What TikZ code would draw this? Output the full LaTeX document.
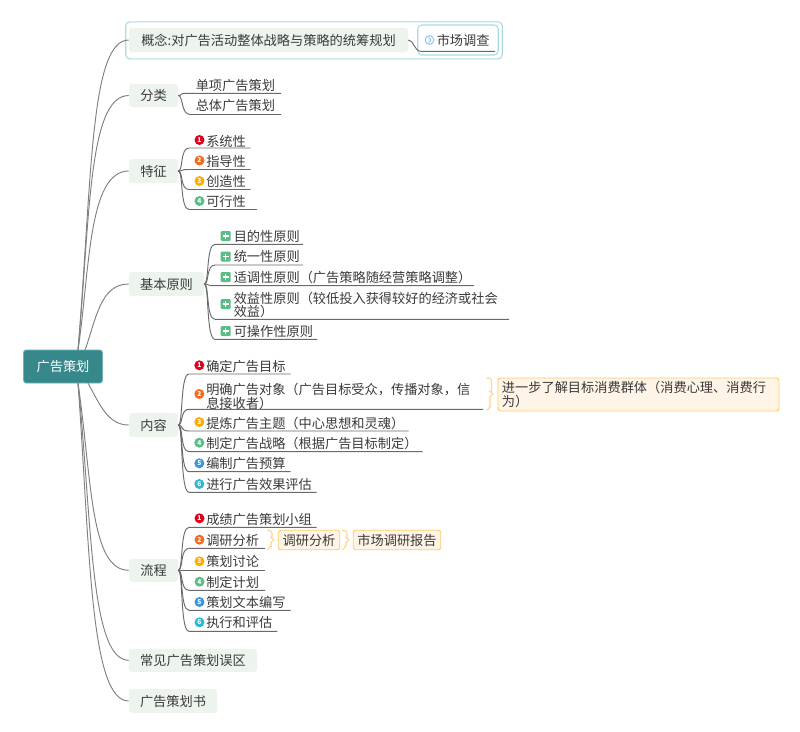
\documentclass[tikz,border=0pt]{standalone}
\usepackage{fontspec}
\setmainfont{Noto Sans CJK SC}
\definecolor{rootfill}{HTML}{36888B}
\definecolor{rootline}{HTML}{6FB5B7}
\definecolor{branchfill}{HTML}{EDF4EE}
\definecolor{txt}{HTML}{3A3A3A}
\definecolor{linec}{HTML}{6A6A6A}
\definecolor{rootconn}{HTML}{808080}
\definecolor{cyanb}{HTML}{A8DCDD}
\definecolor{notefill}{HTML}{FEF4E8}
\definecolor{noteline}{HTML}{FFCC66}
\definecolor{bracec}{HTML}{FFD68A}
\definecolor{ired}{HTML}{E0001B}
\definecolor{iorange}{HTML}{F26C21}
\definecolor{iyellow}{HTML}{FFAB00}
\definecolor{igreen}{HTML}{5BBD85}
\definecolor{iblue}{HTML}{3A97DE}
\definecolor{iteal}{HTML}{2FB8CF}
\definecolor{ilink}{HTML}{85C4F0}
\tikzset{
  basefont/.style={font=\fontsize{9.9}{10.2}\selectfont, text=txt},
  branchbox/.style={basefont, fill=branchfill, rounded corners=2.2pt, inner sep=0pt, text height=8.6pt, text depth=0.9pt},
  rootbox/.style={font=\fontsize{9.9}{10.2}\selectfont, text=white, fill=rootfill, draw=rootline, line width=.6pt, rounded corners=2pt, inner sep=0pt, text height=8.6pt, text depth=0.9pt},
  leaftext/.style={basefont, anchor=west, inner sep=0pt, text height=8.6pt, text depth=0.9pt},
  leaftwo/.style={basefont, anchor=west, inner sep=0pt, align=left},
  rootlink/.style={draw=rootconn, line width=.7pt},
  leaflink/.style={draw=linec, line width=.7pt},
  notebox/.style={basefont, fill=notefill, draw=noteline, line width=.7pt, rounded corners=2pt, inner sep=0pt},
  bracelink/.style={draw=bracec, line width=.8pt},
  framebox/.style={draw=cyanb, line width=.8pt, rounded corners=3pt},
  numicon/.style={circle, inner sep=0pt, minimum size=7.5pt, text=white, font=\fontsize{5}{5}\selectfont\bfseries},
  plusicon/.style={fill=igreen, rounded corners=.8pt, inner sep=0pt, minimum size=7.5pt, text=white},
}
% name, line start x, line end x, line y, text x, text y, text
\newcommand{\lf}[7]{%
  \coordinate (#1-a) at (#2,#4);
  \coordinate (#1-b) at (#3,#4);
  \node[leaftext] (#1) at (#5,#6) {#7};}
\newcommand{\lftwo}[7]{%
  \coordinate (#1-a) at (#2,#4);
  \coordinate (#1-b) at (#3,#4);
  \node[leaftwo] (#1) at (#5,#6) {#7};}
\newcommand{\lk}[2]{\draw[leaflink] (#1.east) .. controls +(5,0) and +(-9,0) .. (#2-a) -- (#2-b);}
\newcommand{\ic}[5]{\node[numicon, fill=#4] (#1-i) at (#2,#3) {#5};}
\newcommand{\pl}[3]{%
  \node[plusicon] (#1-i) at (#2,#3) {};
  \draw[white, line width=1pt] ($(#1-i.center)+(-3,0)$) -- ($(#1-i.center)+(3,0)$);
  \draw[white, line width=1pt] ($(#1-i.center)+(0,-3)$) -- ($(#1-i.center)+(0,3)$);}
% brace from named coordinates: name top, name bottom, name tip
\newcommand{\brc}[3]{\draw[bracelink] (#1) -- ++(2,0) .. controls +(2,0) and +(0,-2) .. ++(3,3) |- ($(#3)+(-3,-2.5)$) -- (#3) -- ($(#3)+(-3,2.5)$) -- ++(0,0) |- ($(#2)+(3,-3)$) .. controls +(0,2) and +(1,0) .. (#2);}
\usetikzlibrary{calc}
\begin{document}
\begin{tikzpicture}[x=0.75pt,y=-0.75pt]
\useasboundingbox (0,0) rectangle (800,732);
\fill[white] (0,0) rectangle (800,732);

% anchors on the root
\coordinate (rtA) at (78,350);
\coordinate (rtB) at (85,350);
\coordinate (rtC) at (78,383);
\coordinate (rtD) at (88,383);

% frames
\node[framebox, fill=white, minimum width=376.5*.75pt, minimum height=37*.75pt, inner sep=0pt] (outerframe) at (314,40.3) {};
\node[framebox, fill=white, minimum width=80.5*.75pt, minimum height=30*.75pt, inner sep=0pt] (innerframe) at (458,40) {};

% branches
\node[branchbox, minimum width=279*.75pt, minimum height=24*.75pt] (gn) at (268.5,40) {概念:对广告活动整体战略与策略的统筹规划};
\node[branchbox, minimum width=49*.75pt, minimum height=23*.75pt] (fl) at (153.5,95.5) {分类};
\node[branchbox, minimum width=49*.75pt, minimum height=24*.75pt] (tz) at (153.5,171) {特征};
\node[branchbox, minimum width=75*.75pt, minimum height=24*.75pt] (jb) at (166.5,284) {基本原则};
\node[branchbox, minimum width=49*.75pt, minimum height=24*.75pt] (nr) at (153.5,425) {内容};
\node[branchbox, minimum width=49*.75pt, minimum height=23*.75pt] (lc) at (153.5,570.3) {流程};
\node[branchbox, minimum width=128*.75pt, minimum height=23*.75pt] (cj) at (193,660.3) {常见广告策划误区};
\node[branchbox, minimum width=88*.75pt, minimum height=24*.75pt] (sh) at (173,701) {广告策划书};

% root connectors
\draw[rootlink] (rtA) .. controls (92,180) and (90,40) .. (gn.west);
\draw[rootlink] (rtA) .. controls (90,220) and (88,95.5) .. (fl.west);
\draw[rootlink] (rtA) .. controls (90,270) and (88,171) .. (tz.west);
\draw[rootlink] (rtB) .. controls (96,320) and (100,284) .. (jb.west);
\draw[rootlink] (rtD) .. controls (100,405) and (108,425) .. (nr.west);
\draw[rootlink] (rtC) .. controls (92,480) and (90,570.3) .. (lc.west);
\draw[rootlink] (rtC) .. controls (92,520) and (90,660.3) .. (cj.west);
\draw[rootlink] (rtC) .. controls (90,550) and (90,701) .. (sh.west);

% root
\node[rootbox, minimum width=79*.75pt, minimum height=33*.75pt] (root) at (63,366.5) {广告策划};

% concept attachment
\coordinate (sc-a) at (421,51.3);
\coordinate (sc-b) at (495,51.3);
\draw[leaflink] (gn.east) .. controls (414,40) and (414,51.3) .. (sc-a) -- (sc-b);
\node[leaftext] (sc) at (436.5,40) {市场调查};
\node[circle, draw=ilink, line width=.7pt, minimum size=6.5pt, inner sep=0pt] (sc-i) at (429.5,40) {};
\draw[ilink, line width=.7pt] ($(sc-i.center)+(-1,-2.5)$) -- ($(sc-i.center)+(1.5,0)$) -- ($(sc-i.center)+(-1,2.5)$);

% classification
\lf{fa}{187}{281}{93.3}{195.5}{85}{单项广告策划}
\lf{fb}{190}{281}{114.5}{195.5}{105}{总体广告策划}
\lk{fl}{fa}\lk{fl}{fb}

% features
\lf{ta}{189}{250.7}{148}{206}{141}{系统性}
\lf{tb}{189}{250.7}{169.5}{206}{161}{指导性}
\lf{tc}{189}{250.7}{189.5}{206}{181}{创造性}
\lf{td}{189}{257}{209.5}{206}{201}{可行性}
\lk{tz}{ta}\lk{tz}{tb}\lk{tz}{tc}\lk{tz}{td}
\ic{ta}{199.5}{140}{ired}{1}
\ic{tb}{199.5}{160.5}{iorange}{2}
\ic{tc}{199.5}{181}{iyellow}{3}
\ic{td}{199.5}{201}{igreen}{4}

% principles
\lf{ja}{215}{303}{244.3}{233.5}{236}{目的性原则}
\lf{jb1}{215}{303}{265}{233.5}{256}{统一性原则}
\lf{jc}{215}{474}{285.7}{233.5}{277}{适调性原则（广告策略随经营策略调整）}
\lftwo{jd}{215}{509}{319.3}{233.5}{305}{效益性原则（较低投入获得较好的经济或社会\\效益）}
\lf{je}{215}{317}{339.3}{233.5}{331}{可操作性原则}
\lk{jb}{ja}\lk{jb}{jb1}\lk{jb}{jc}\lk{jb}{jd}\lk{jb}{je}
\pl{ja}{225.7}{236}
\pl{jb1}{225.7}{256.5}
\pl{jc}{225.7}{277}
\pl{jd}{225.7}{304}
\pl{je}{225.7}{331}

% content
\lf{na}{189}{290.7}{374}{206}{366}{确定广告目标}
\lftwo{nb}{189}{483}{409.3}{206}{396.5}{明确广告对象（广告目标受众，传播对象，信\\息接收者）}
\lf{nc}{189}{408.7}{431}{206}{423}{提炼广告主题（中心思想和灵魂）}
\lf{nd}{189}{422.7}{451.7}{206}{443}{制定广告战略（根据广告目标制定）}
\lf{ne}{189}{290.7}{471.7}{206}{463}{编制广告预算}
\lf{nf}{189}{316.7}{492.3}{206}{484}{进行广告效果评估}
\lk{nr}{na}\lk{nr}{nb}\lk{nr}{nc}\lk{nr}{nd}\lk{nr}{ne}\lk{nr}{nf}
\ic{na}{199.3}{365.3}{ired}{1}
\ic{nb}{199.3}{394}{iorange}{2}
\ic{nc}{199.3}{422}{iyellow}{3}
\ic{nd}{199.3}{442.7}{igreen}{4}
\ic{ne}{199.3}{463.3}{iblue}{5}
\ic{nf}{199.3}{484}{iteal}{6}

% note on content item 2
\node[notebox, text width=273*.75pt, minimum height=33*.75pt, align=left, anchor=west, inner xsep=3pt] (note) at (497.5,394.5) {进一步了解目标消费群体（消费心理、消费行\\为）};
\coordinate (nbt) at (486.5,378);
\coordinate (nbb) at (486.5,410);
\coordinate (nbm) at (493,394);
\brc{nbt}{nbb}{nbm}

% process
\lf{la}{189}{316.7}{527.3}{206}{519}{成绩广告策划小组}
\lf{lb}{189}{265}{548.3}{206}{540}{调研分析}
\lf{lc1}{189}{265}{570.3}{206}{561.5}{策划讨论}
\lf{ld}{189}{265}{590.3}{206}{582}{制定计划}
\lf{le}{189}{290.7}{610.3}{206}{602}{策划文本编写}
\lf{lf1}{189}{277.3}{631.3}{206}{622.5}{执行和评估}
\lk{lc}{la}\lk{lc}{lb}\lk{lc}{lc1}\lk{lc}{ld}\lk{lc}{le}\lk{lc}{lf1}
\ic{la}{199.5}{518.3}{ired}{1}
\ic{lb}{199.5}{539.7}{iorange}{2}
\ic{lc1}{199.5}{561.3}{iyellow}{3}
\ic{ld}{199.5}{581.7}{igreen}{4}
\ic{le}{199.5}{602}{iblue}{5}
\ic{lf1}{199.5}{622.3}{iteal}{6}

% process item 2 notes
\node[notebox, minimum width=61.5*.75pt, minimum height=19.5*.75pt, text height=8.6pt, text depth=0.9pt] (nta) at (309,540) {调研分析};
\node[notebox, minimum width=87.5*.75pt, minimum height=19.5*.75pt, text height=8.6pt, text depth=0.9pt] (ntb) at (397,540) {市场调研报告};
\coordinate (bat) at (267,530.5);
\coordinate (bab) at (267,549.5);
\coordinate (bam) at (274,540);
\brc{bat}{bab}{bam}
\coordinate (bbt) at (342,530.5);
\coordinate (bbb) at (342,549.5);
\coordinate (bbm) at (349,540);
\brc{bbt}{bbb}{bbm}
\end{tikzpicture}
\end{document}
